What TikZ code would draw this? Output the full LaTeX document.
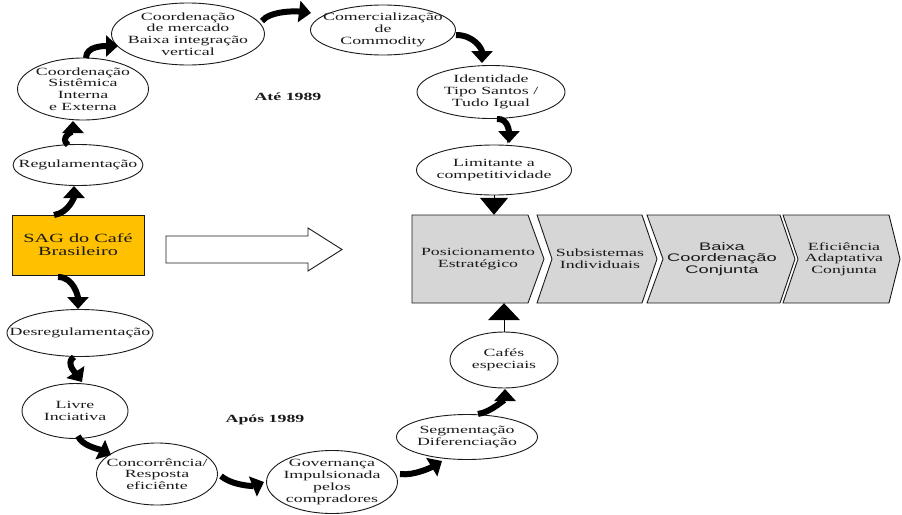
\documentclass[tikz,border=0pt]{standalone}
\usepackage{fontspec}
\setmainfont{Liberation Serif}[FakeStretch=1.62]
\newfontfamily\arialf{Liberation Sans}[FakeStretch=1.66]
\usetikzlibrary{shapes.geometric,arrows.meta}
\definecolor{sagfill}{HTML}{FFC000}
\definecolor{chevfill}{HTML}{D6D6D6}
\definecolor{ink}{HTML}{1A1A1A}
\begin{document}
\begin{tikzpicture}[x=1pt,y=-1pt,
  every node/.style={font=\fontsize{11}{11.7}\selectfont, align=center, text=ink},
  oval/.style={ellipse, draw=ink, line width=0.9pt, inner sep=0pt, fill=white},
  ovaltext/.style={inner sep=0pt},
  curvarr/.style={line width=6pt, draw=black, -{Triangle[width=21pt,length=12pt]}},
  stemarr/.style={line width=1pt, draw=black, -{Triangle[width=#1,length=17pt]}},
  chev/.style={draw=ink, line width=0.9pt, fill=chevfill},
  chevtext/.style={minimum height=88pt, inner sep=0pt},
  yearlbl/.style={font=\fontsize{11}{11.7}\selectfont\bfseries}]
\useasboundingbox (0,0) rectangle (902,514);

% ---- chevrons ----
\draw[chev] (412,215) -- (528,215) -- (544,259) -- (528,303) -- (412,303) -- cycle;
\draw[chev] (537,215) -- (642,215) -- (657,259) -- (642,303) -- (537,303) -- (552,259) -- cycle;
\draw[chev] (647,215) -- (780,215) -- (795,259) -- (780,303) -- (647,303) -- (663,259) -- cycle;
\draw[chev] (783,215) -- (889,215) -- (900,259) -- (889,303) -- (783,303) -- (798,259) -- cycle;
\node[chevtext] (p1) at (478,259) {Posicionamento\\Estratégico};
\node[chevtext] (p2) at (600,259) {Subsistemas\\Individuais};
\node[chevtext, font=\arialf\fontsize{11}{11.7}\selectfont] (p3) at (722,259) {Baixa\\Coordenação\\Conjunta};
\node[chevtext] (p4) at (844,259) {Eficiência\\Adaptativa\\Conjunta};

% ---- big hollow arrow ----
\draw[line width=0.9pt, draw=ink, fill=white] (166,236) -- (308,236) -- (308,228) -- (342,249.5) -- (308,271) -- (308,263) -- (166,263) -- cycle;

% ---- SAG box ----
\node[draw=ink, line width=0.9pt, fill=sagfill, minimum width=132pt, minimum height=60pt, inner sep=0pt,
      font=\fontsize{12.5}{13}\selectfont] (sag) at (78,245) {SAG do Café\\Brasileiro};

% ---- ellipses ----
\node[oval, minimum width=130pt, minimum height=41pt] (reg) at (78,165) {};
\node[ovaltext] at (reg) {Regulamentação};
\node[oval, minimum width=131pt, minimum height=62pt] (cs) at (83,89) {};
\node[ovaltext] at (cs) {Coordenação\\Sistêmica\\Interna\\e Externa};
\node[oval, minimum width=153pt, minimum height=62pt] (cm) at (188,34) {};
\node[ovaltext] at (cm) {Coordenação\\de mercado\\Baixa integração\\vertical};
\node[oval, minimum width=145pt, minimum height=50pt] (com) at (383,30) {};
\node[ovaltext] at (com) {Comercialização\\de\\Commodity};
\node[oval, minimum width=148pt, minimum height=53pt] (ide) at (491,92) {};
\node[ovaltext] at (ide) {Identidade\\Tipo Santos /\\Tudo Igual};
\node[oval, minimum width=155pt, minimum height=50pt] (lim) at (494,170) {};
\node[ovaltext] at (lim) {Limitante a\\competitividade};
\node[oval, minimum width=146pt, minimum height=47pt] (des) at (80,333) {};
\node[ovaltext] at (des) {Desregulamentação};
\node[oval, minimum width=106pt, minimum height=55pt] (liv) at (75,411) {};
\node[ovaltext] at (liv) {Livre\\Inciativa};
\node[oval, minimum width=121pt, minimum height=62pt] (con) at (157,474) {};
\node[ovaltext] at (con) {Concorrência/\\Resposta\\eficiênte};
\node[oval, minimum width=131pt, minimum height=63pt] (gov) at (332,482) {};
\node[ovaltext] at (gov) {Governança\\Impulsionada\\pelos\\compradores};
\node[oval, minimum width=141pt, minimum height=45pt] (seg) at (467,437) {};
\node[ovaltext] at (seg) {Segmentação\\Diferenciação};
\node[oval, minimum width=108pt, minimum height=56pt] (caf) at (504,360) {};
\node[ovaltext] at (caf) {Cafés\\especiais};

% ---- year labels ----
\node[yearlbl] (ate) at (288,97) {Até 1989};
\node[yearlbl] (apos) at (265,420) {Após 1989};

% ---- curved arrows ----
\draw[curvarr] ([shift={(-24,-30)}]sag.center) .. controls +(14,-2) and +(0,12) .. ([shift={(-4,21)}]reg.center);
\draw[curvarr] ([shift={(-10,-20)}]reg.center) .. controls +(-9,-7) and +(0,9) .. ([shift={(-10,32)}]cs.center);
\draw[curvarr] ([shift={(3,-31)}]cs.center) .. controls +(0,-12) and +(-14,0) .. ([shift={(-70,12)}]cm.center);
\draw[curvarr] ([shift={(74,-13)}]cm.center) .. controls +(8,-10) and +(-16,-2) .. ([shift={(-72,-17)}]com.center);
\draw[curvarr] ([shift={(73,5)}]com.center) .. controls +(18,0) and +(0,-14) .. ([shift={(-9,-29)}]ide.center);
\draw[curvarr] ([shift={(6,27)}]ide.center) .. controls +(12,-1) and +(0,-9) .. ([shift={(15,-27)}]lim.center);
\draw[curvarr] ([shift={(-20,32)}]sag.center) .. controls +(16,0) and +(0,-12) .. ([shift={(-2,-24)}]des.center);
\draw[curvarr] ([shift={(-6,24)}]des.center) .. controls +(-10,6) and +(-4,-6) .. ([shift={(7,-29)}]liv.center);
\draw[curvarr] ([shift={(3,25)}]liv.center) .. controls +(4,10) and +(-12,-6) .. ([shift={(-46,-19)}]con.center);
\draw[curvarr] ([shift={(64,2)}]con.center) .. controls +(12,10) and +(-10,4) .. ([shift={(-68,0)}]gov.center);
\draw[curvarr] ([shift={(68,-8)}]gov.center) .. controls +(14,2) and +(-10,6) .. ([shift={(-25,24)}]seg.center);
\draw[curvarr] ([shift={(11,-23)}]seg.center) .. controls +(14,-2) and +(0,9) .. ([shift={(1,29)}]caf.center);

% ---- straight arrows to the chevron row ----
\draw[stemarr=28pt] (lim.south) -- ([shift={(16,0)}]p1.north);
\draw[stemarr=32pt] (caf.north) -- ([shift={(26,0)}]p1.south);
\end{tikzpicture}
\end{document}
